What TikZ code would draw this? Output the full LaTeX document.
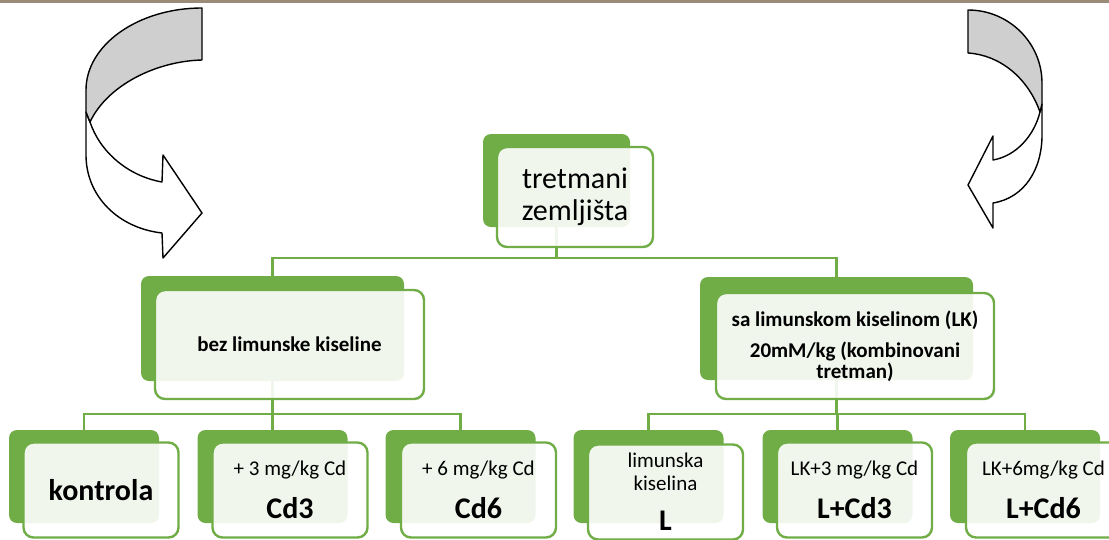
\documentclass[tikz,border=0pt]{standalone}
\usepackage{fontspec}
\setmainfont{Carlito}
\usetikzlibrary{positioning}
\definecolor{cgreen}{HTML}{70AD47}
\definecolor{cgrey}{HTML}{CFCFCF}
\definecolor{cstrip}{HTML}{9A8C78}
\newcommand\smallfont{\fontsize{21}{23}\selectfont}
\newcommand\bigfont{\fontsize{30}{32}\selectfont}
\tikzset{
  every picture/.style={x=1pt, y=-1pt},
  back/.style={fill=cgreen, rounded corners=8pt, inner sep=0pt, minimum width=#1},
  back/.default=150pt,
  front/.style={draw=cgreen, fill=white, fill opacity=0.9, text opacity=1, line width=2.4pt,
    rounded corners=10pt, inner sep=0pt, align=center, minimum width=#1, font=\smallfont},
  front/.default=155pt,
  link/.style={draw=cgreen, line width=2.4pt},
  turn/.style={draw=black, line width=1.4pt, line join=round},
}

\begin{document}
\begin{tikzpicture}
  \useasboundingbox (0,0) rectangle (1109,539);
  \clip (0,0) rectangle (1109,539);
  \fill[cstrip] (0,0) rectangle (1109,3);
  % back boxes
  \node[back=147pt, minimum height=93pt] (top) at (556.5,180.5) {};
  \node[back=263pt, minimum height=105pt] (l2) at (272.5,328.5) {};
  \node[back=273pt, minimum height=103pt] (r2) at (836.5,328.5) {};
  \node[back, minimum height=93pt] (kon) at (84,476.5) {};
  \node[back, minimum height=93pt] (cd3) at (272.5,476.5) {};
  \node[back, minimum height=93pt] (cd6) at (460.5,476.5) {};
  \node[back, minimum height=93pt] (lk) at (648.5,476.5) {};
  \node[back, minimum height=93pt] (lcd3) at (837.5,476.5) {};
  \node[back, minimum height=93pt] (lcd6) at (1025,476.5) {};
  % hierarchy lines
  \draw[link] (top.south) -- ++(0,31) -| (l2.north);
  \draw[link] (top.south) -- ++(0,31) -| (r2.north);
  \draw[link] (l2.south) -- ++(0,33) -| (kon.north);
  \draw[link] (l2.south) -- (cd3.north);
  \draw[link] (l2.south) -- ++(0,33) -| (cd6.north);
  \draw[link] (r2.south) -- ++(0,34) -| (lk.north);
  \draw[link] (r2.south) -- ++(0,34) -| (lcd3.north);
  \draw[link] (r2.south) -- ++(0,34) -| (lcd6.north);
  % front boxes with the texts
  \node[front=156pt, minimum height=100pt, font=\bigfont] (topf) at (575,197) {tretmani\\zemljišta};
  \node[front=269pt, minimum height=109pt, font=\smallfont\bfseries] (l2f) at (289.5,344.5) {bez limunske kiseline};
  \node[front=278pt, minimum height=106pt, font=\fontsize{21}{21}\selectfont\bfseries] (r2f) at (855,346)
    {sa limunskom kiselinom (LK)\\[10pt]20mM/kg (kombinovani\\tretman)};
  \node[front, minimum height=95pt, font=\bigfont\bfseries] (konf) at (101,490) {kontrola};
  \node[front, minimum height=95pt] (cd3f) at (290,490) {+ 3 mg/kg Cd\\[17pt]{\bigfont\bfseries Cd3}};
  \node[front, minimum height=95pt] (cd6f) at (478.5,490) {+ 6 mg/kg Cd\\[17pt]{\bigfont\bfseries Cd6}};
  \node[front, minimum height=95pt] (lkf) at (665.5,492) {limunska\\kiselina\\[17pt]{\bigfont\bfseries L}};
  \node[front, minimum height=95pt] (lcd3f) at (854.5,490) {LK+3 mg/kg Cd\\[17pt]{\bigfont\bfseries L+Cd3}};
  \node[front, minimum height=95pt] (lcd6f) at (1043.5,490) {LK+6mg/kg Cd\\[17pt]{\bigfont\bfseries L+Cd6}};
  % curved arrow on the left
  \draw[turn, fill=white] (90,122) .. controls (100,152) and (128,176) .. (162,182) -- (163,155) -- (202,213)
    -- (163,258) -- (162,233) .. controls (118,228) and (86,196) .. (86,155) -- (86,112) -- cycle;
  \draw[turn, fill=cgrey] (202,8) -- (202,60) .. controls (158,61) and (108,84) .. (90,122) -- (86,112)
    -- (86,90) .. controls (86,45) and (138,8) .. (202,8) -- cycle;
  % curved arrow on the right
  \draw[turn, fill=white] (1040,112) .. controls (1034,136) and (1016,156) .. (993,160) -- (993,136) -- (968,185)
    -- (993,228) -- (993,203) .. controls (1024,198) and (1042,170) .. (1042,135) -- (1042,104) -- cycle;
  \draw[turn, fill=cgrey] (968,10) -- (968,53) .. controls (1000,55) and (1028,78) .. (1040,112) -- (1042,104)
    -- (1042,83) .. controls (1042,43) and (1009,10) .. (968,10) -- cycle;
\end{tikzpicture}
\end{document}
